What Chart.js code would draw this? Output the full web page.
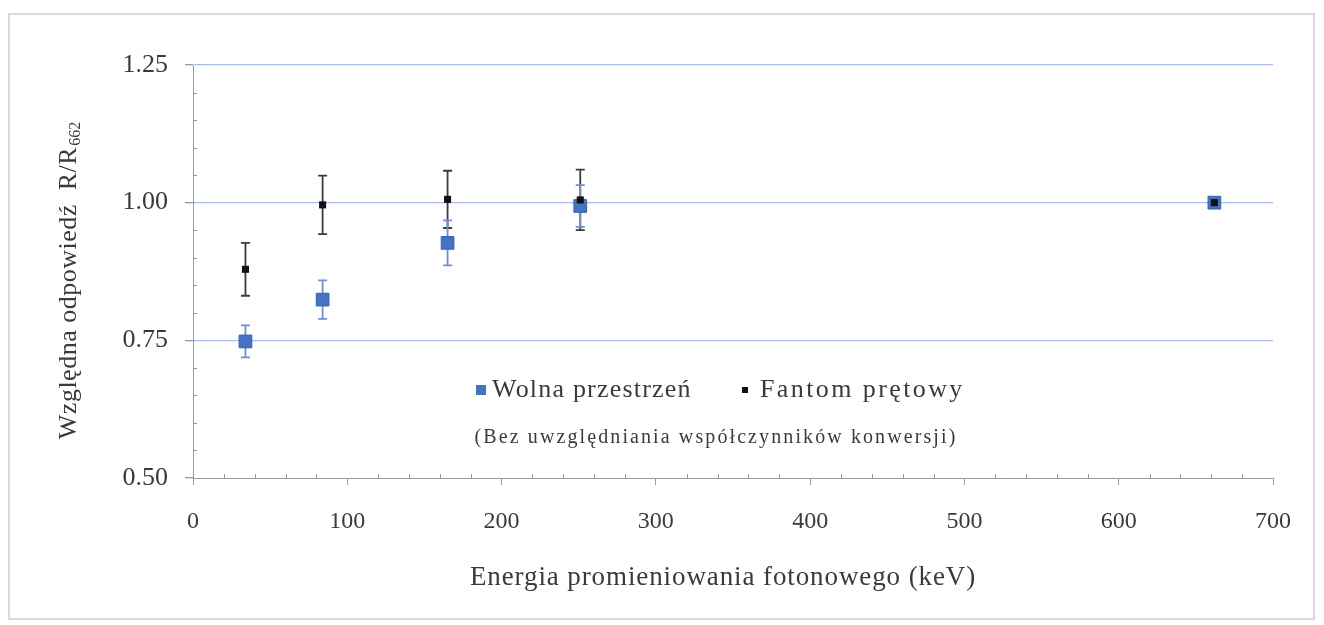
<!DOCTYPE html>
<html>
<head>
<meta charset="utf-8">
<script src="https://cdn.jsdelivr.net/npm/chart.js@4.4.1/dist/chart.umd.min.js"></script>
<style>
  html, body { margin: 0; padding: 0; background: #ffffff; }
  #wrap { width: 1324px; height: 625px; position: relative; }
</style>
</head>
<body>
<div id="wrap"><canvas id="c" width="1324" height="625"></canvas></div>
<script>
// ---- data ----
const energies      = [34, 84, 165, 251, 662];          // keV
const freeSpace     = [0.748, 0.824, 0.927, 0.994, 1.000];
const freeSpaceErr  = [0.029, 0.035, 0.041, 0.038, 0];
const phantom       = [0.879, 0.996, 1.006, 1.005, 1.000];
const phantomErr    = [0.048, 0.053, 0.052, 0.055, 0];
const seriesLabels  = ['Wolna przestrzeń', 'Fantom prętowy'];
const yTicks        = [0.50, 0.75, 1.00, 1.25];
const xTicks        = [0, 100, 200, 300, 400, 500, 600, 700];
const xTitle        = 'Energia promieniowania fotonowego (keV)';
const yTitleMain    = 'Względna odpowiedź  R/R';
const yTitleSub     = '662';
const noteText      = '(Bez uwzględniania współczynników konwersji)';

const SERIF = '"Liberation Serif", "Times New Roman", serif';
const BLUE = '#4472C4';
const TXT = '#3a3a3a';

function setSpacing(ctx, px) {
  if ('letterSpacing' in ctx) ctx.letterSpacing = px + 'px';
}

const errorBars = {
  id: 'errorBars',
  beforeDatasetsDraw(chart) {
    const {ctx, scales: {x, y}} = chart;
    ctx.save();
    chart.data.datasets.forEach((ds) => {
      const errs = ds.errors;
      ds.data.forEach((p, i) => {
        const e = errs[i];
        if (!e) return;
        const px = x.getPixelForValue(p.x);
        const top = y.getPixelForValue(p.y + e);
        const bot = y.getPixelForValue(p.y - e);
        ctx.strokeStyle = ds.errColor;
        ctx.lineWidth = 1.8;
        ctx.beginPath();
        ctx.moveTo(px, top); ctx.lineTo(px, bot);
        ctx.moveTo(px - 4.5, top); ctx.lineTo(px + 4.5, top);
        ctx.moveTo(px - 4.5, bot); ctx.lineTo(px + 4.5, bot);
        ctx.stroke();
      });
    });
    ctx.restore();
  }
};

const extras = {
  id: 'extras',
  beforeDraw(chart) {
    const {ctx} = chart;
    ctx.save();
    ctx.fillStyle = '#ffffff';
    ctx.fillRect(0, 0, chart.width, chart.height);
    ctx.strokeStyle = '#dcd6e6';
    ctx.lineWidth = 2;
    ctx.strokeRect(9, 14, 1305, 605);
    ctx.restore();
  },
  afterDraw(chart) {
    const {ctx, scales: {x, y}, chartArea: ca} = chart;
    ctx.save();
    // minor ticks
    ctx.strokeStyle = '#9a9a9a';
    ctx.lineWidth = 1;
    ctx.beginPath();
    for (let v = 0.55; v < 1.25; v += 0.05) {
      if (Math.abs((v / 0.25) - Math.round(v / 0.25)) < 1e-6) continue;
      const py = Math.round(y.getPixelForValue(v)) + 0.5;
      ctx.moveTo(ca.left, py); ctx.lineTo(ca.left + 4, py);
    }
    for (let v = 20; v < 700; v += 20) {
      if (v % 100 === 0) continue;
      const px = Math.round(x.getPixelForValue(v)) + 0.5;
      ctx.moveTo(px, ca.bottom); ctx.lineTo(px, ca.bottom - 4);
    }
    ctx.stroke();

    ctx.fillStyle = TXT;
    // x title
    ctx.textBaseline = 'middle';
    ctx.textAlign = 'center';
    ctx.font = '27px ' + SERIF;
    setSpacing(ctx, 0.9);
    ctx.fillText(xTitle, 723, 578);

    // y title with subscript
    const mainFont = '26px ' + SERIF;
    const subFont = '16px ' + SERIF;
    ctx.textAlign = 'left';
    ctx.font = mainFont;
    setSpacing(ctx, 0.5);
    const w1 = ctx.measureText(yTitleMain).width;
    ctx.font = subFont;
    setSpacing(ctx, 0);
    const w2 = ctx.measureText(yTitleSub).width;
    const total = w1 + w2;
    const cx = 69, cy = 281;
    ctx.translate(cx, cy);
    ctx.rotate(-Math.PI / 2);
    ctx.font = mainFont;
    setSpacing(ctx, 0.5);
    ctx.fillText(yTitleMain, -total / 2, 0);
    ctx.font = subFont;
    setSpacing(ctx, 0);
    ctx.fillText(yTitleSub, -total / 2 + w1 + 1, 7);
    ctx.setTransform(1, 0, 0, 1, 0, 0);

    // legend inside plot
    const ds = chart.data.datasets;
    ctx.textBaseline = 'middle';
    ctx.textAlign = 'left';
    ctx.font = '26px ' + SERIF;
    const ly = 390;
    ctx.fillStyle = ds[1].backgroundColor;
    ctx.fillRect(476, ly - 5, 10, 10);
    ctx.fillStyle = TXT;
    setSpacing(ctx, 1.2);
    ctx.fillText(ds[1].label, 492, ly);
    ctx.fillStyle = '#111';
    ctx.fillRect(742, ly - 3, 6, 6);
    ctx.fillStyle = TXT;
    setSpacing(ctx, 2.4);
    ctx.fillText(ds[0].label, 760, ly);
    ctx.font = '20px ' + SERIF;
    setSpacing(ctx, 2.1);
    ctx.textAlign = 'center';
    ctx.fillText(noteText, 716, 438);
    ctx.restore();
  }
};

const chart = new Chart(document.getElementById('c'), {
  type: 'scatter',
  data: {
    datasets: [
      {
        label: seriesLabels[1],
        data: energies.map((e, i) => ({x: e, y: phantom[i]})),
        errors: phantomErr,
        errColor: '#3c3c3c',
        pointStyle: 'rect',
        pointRadius: 5,
        pointHoverRadius: 5,
        backgroundColor: '#111111',
        borderColor: '#111111',
        borderWidth: 0,
        order: 0
      },
      {
        label: seriesLabels[0],
        data: energies.map((e, i) => ({x: e, y: freeSpace[i]})),
        errors: freeSpaceErr,
        errColor: '#6f8fd2',
        pointStyle: 'rect',
        pointRadius: 9,
        pointHoverRadius: 9,
        backgroundColor: BLUE,
        borderColor: '#3a62ad',
        borderWidth: 1,
        order: 1
      }
    ]
  },
  options: {
    responsive: false,
    animation: false,
    layout: { padding: { left: 0, right: 51, top: 65, bottom: 0 } },
    plugins: {
      legend: { display: false },
      tooltip: { enabled: false }
    },
    scales: {
      x: {
        type: 'linear',
        min: 0, max: 700,
        afterBuildTicks: (s) => { s.ticks = xTicks.map(v => ({value: v})); },
        afterFit: (s) => { s.height = 147; },
        border: { color: '#9a9a9a', width: 1 },
        grid: { drawOnChartArea: false, drawTicks: true, tickLength: 7, tickColor: '#9a9a9a' },
        ticks: {
          color: TXT,
          padding: 22,
          maxRotation: 0,
          font: { family: SERIF, size: 24 },
          callback: (v) => String(v)
        },
        title: { display: false }
      },
      y: {
        type: 'linear',
        min: 0.5, max: 1.25,
        afterBuildTicks: (s) => { s.ticks = yTicks.map(v => ({value: v})); },
        afterFit: (s) => { s.width = 193; },
        border: { color: '#9a9a9a', width: 1 },
        grid: {
          drawTicks: true,
          tickLength: 8,
          tickColor: '#9a9a9a',
          color: (c) => (c.tick && Math.abs(c.tick.value - 0.5) < 1e-6) ? 'rgba(0,0,0,0)' : '#a9bce8',
          lineWidth: 1.3
        },
        ticks: {
          color: TXT,
          padding: 17,
          font: { family: SERIF, size: 26 },
          callback: (v) => Number(v).toFixed(2)
        }
      }
    }
  },
  plugins: [errorBars, extras]
});
</script>
</body>
</html>
